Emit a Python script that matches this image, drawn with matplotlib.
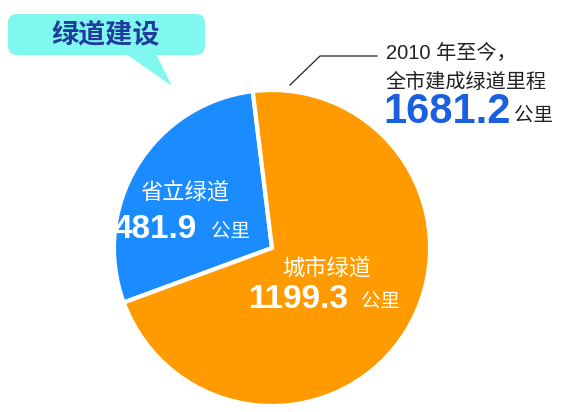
import matplotlib
matplotlib.use('Agg')
import matplotlib.pyplot as plt
from matplotlib.patches import FancyBboxPatch, Polygon

plt.rcParams['font.family'] = ['Liberation Sans', 'Noto Sans CJK SC', 'DejaVu Sans']

# data
names = ['省立绿道', '城市绿道']
values = [481.9, 1199.3]
total = 1681.2
colors = ['#1a8cff', '#ff9a00']
title = '绿道建设'

W, H = 575, 412
fig = plt.figure(figsize=(W / 100, H / 100), dpi=100)
ax = fig.add_axes([0, 0, 1, 1])
ax.set_xlim(0, W)
ax.set_ylim(0, H)
ax.axis('off')

def py(y):
    # pixel row from top -> data y
    return H - y

wedges, _ = ax.pie(values, colors=colors, startangle=97, counterclock=True,
                   center=(272, py(248)), radius=158, explode=[0.03, 0],
                   wedgeprops=dict(edgecolor='white', linewidth=3))
ax.set_xlim(0, W)
ax.set_ylim(0, H)
ax.set_aspect('auto')

# speech bubble title
bubble = FancyBboxPatch((8, py(55)), 197, 41, boxstyle='round,pad=0,rounding_size=9',
                        fc='#80f8ef', ec='none')
ax.add_patch(bubble)
ax.add_patch(Polygon([(126, py(54)), (156, py(54)), (172, py(86))], closed=True,
                     fc='#80f8ef', ec='none'))
ax.text(106, py(34), title, color='#1e3c9c', fontsize=19.5, fontweight='bold',
        ha='center', va='center', family=['Noto Sans CJK SC'])

# leader line
ax.plot([290, 320, 377], [py(85), py(56), py(56)], color='#222222', lw=0.9)

ax.text(386, py(53), '2010 年至今，', fontsize=14.5, color='#222222', ha='left', va='center')
ax.text(385, py(82), '全市建成绿道里程', fontsize=14.5, color='#222222', ha='left', va='center',
        family=['Noto Sans CJK SC'])
ax.text(383, py(112), f'{total}', fontsize=30, fontweight='bold', color='#1a5fe0',
        ha='left', va='center')
ax.text(514, py(115), '公里', fontsize=14, color='#222222', ha='left', va='center',
        family=['Noto Sans CJK SC'])

# labels inside wedges
ax.text(185, py(192), names[0], fontsize=16, color='white', ha='center', va='center',
        family=['Noto Sans CJK SC'])
ax.text(114, py(229), f'{values[0]}', fontsize=24, fontweight='bold', color='white',
        ha='left', va='center')
ax.text(211, py(231), '公里', fontsize=14, color='white', ha='left', va='center',
        family=['Noto Sans CJK SC'])

ax.text(327, py(268), names[1], fontsize=16, color='white', ha='center', va='center',
        family=['Noto Sans CJK SC'])
ax.text(249, py(299), f'{values[1]}', fontsize=24, fontweight='bold', color='white',
        ha='left', va='center')
ax.text(361, py(301), '公里', fontsize=14, color='white', ha='left', va='center',
        family=['Noto Sans CJK SC'])

fig.savefig('out.png', dpi=100)
